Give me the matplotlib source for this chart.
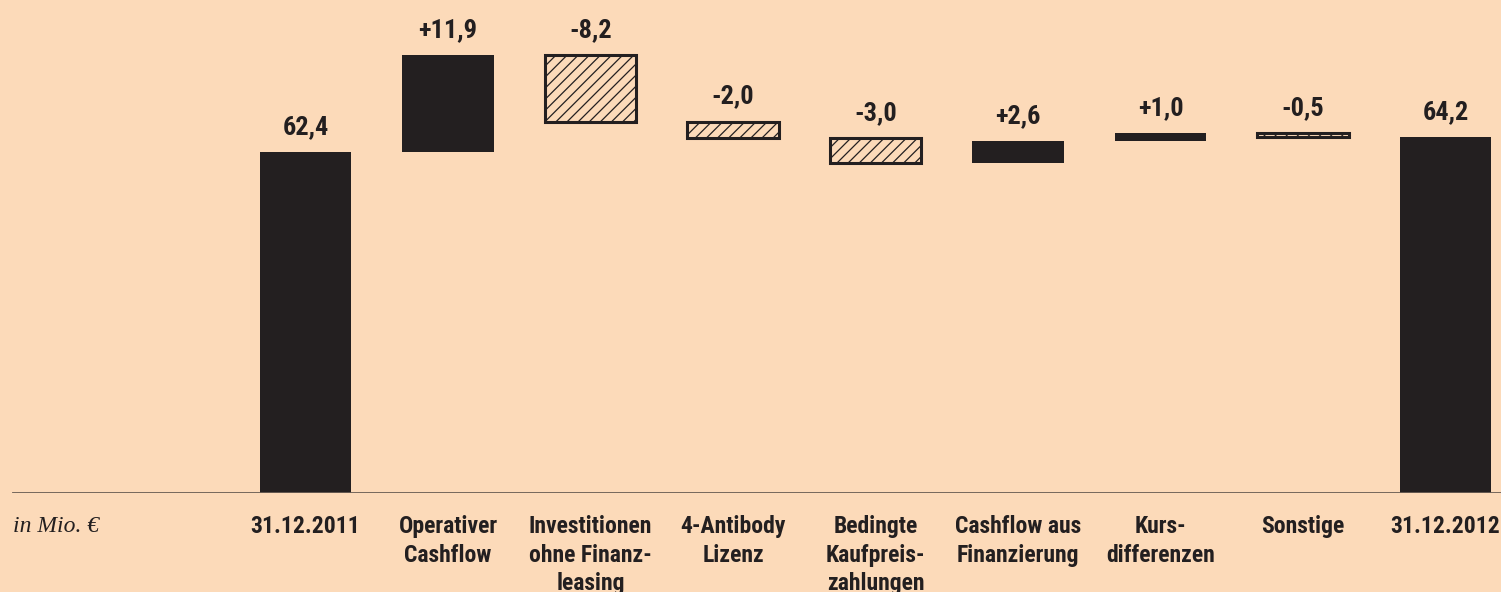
import numpy as np
import matplotlib
matplotlib.use('Agg')
import matplotlib.pyplot as plt
from matplotlib import font_manager

# Data
categories = ['31.12.2011', 'Operativer\nCashflow', 'Investitionen\nohne Finanz-\nleasing',
              '4-Antibody\nLizenz', 'Bedingte\nKaufpreis-\nzahlungen', 'Cashflow aus\nFinanzierung',
              'Kurs-\ndifferenzen', 'Sonstige', '31.12.2012']
values = [62.4, 11.9, -8.2, -2.0, -3.0, 2.6, 1.0, -0.5, 64.2]
is_total = [True, False, False, False, False, False, False, False, True]
value_labels = ['62,4', '+11,9', '-8,2', '-2,0', '-3,0', '+2,6', '+1,0', '-0,5', '64,2']

BG = '#FCDAB9'
DARK = '#231F20'

# condensed face if there is one, otherwise plain Roboto
names = {f.name for f in font_manager.fontManager.ttflist}
if 'Roboto Condensed' in names:
    LABEL_FONT, CAT_SIZE, VAL_SIZE = ['Roboto Condensed', 'DejaVu Sans'], 17, 19
else:
    LABEL_FONT, CAT_SIZE, VAL_SIZE = ['Roboto', 'DejaVu Sans'], 14.5, 17.5

# broken scale: totals compressed below 60, changes stretched above
B, K0, K1 = 60.0, 5.357, 8.15
HB = B * K0


def fwd(v):
    v = np.asarray(v, dtype=float)
    return np.where(v < B, v * K0, HB + K1 * (v - B))


def inv(h):
    h = np.asarray(h, dtype=float)
    return np.where(h < HB, h / K0, B + (h - HB) / K1)


plt.rcParams['hatch.linewidth'] = 0.9
plt.rcParams['hatch.color'] = DARK

fig = plt.figure(figsize=(15.01, 5.92), dpi=100, facecolor=BG)
ax = fig.add_axes([0, 99 / 592, 1, 493 / 592])
ax.set_facecolor(BG)
ax.set_yscale('function', functions=(fwd, inv))
ax.set_ylim(0, float(inv(493)))
ax.set_xlim(-2.144, 8.389)

x = np.arange(len(values))
running = 0.0
for i, (v, tot) in enumerate(zip(values, is_total)):
    if tot:
        bottom, height = 0.0, v
        running = v
    else:
        bottom, height = running, v
        running = running + v
    if tot or v > 0:
        ax.bar(x[i], height, bottom=bottom, width=0.64, color=DARK, linewidth=0)
    else:
        ax.bar(x[i], height, bottom=bottom, width=0.64, facecolor=BG,
               edgecolor=DARK, linewidth=2.2, hatch='///')
    top = max(bottom, bottom + height)
    ax.annotate(value_labels[i], (x[i], top), xytext=(0, 9.5), textcoords='offset points',
                ha='center', va='bottom', fontsize=VAL_SIZE, fontweight='bold',
                family=LABEL_FONT, color=DARK)
    ax.annotate(categories[i], (x[i], 0), xycoords=('data', 'axes fraction'),
                xytext=(0, -16), textcoords='offset points', ha='center', va='top',
                multialignment='center', fontsize=CAT_SIZE, fontweight='bold',
                family=LABEL_FONT, color=DARK, linespacing=1.3, annotation_clip=False)

ax.axhline(0, xmin=13 / 1501, xmax=1, color='#6b5e55', linewidth=1.3, zorder=5)

fig.text(13 / 1501, (592 - 532) / 592, 'in Mio. €', ha='left', va='baseline',
         fontsize=17, style='italic', family=['Liberation Serif', 'DejaVu Serif'], color=DARK)

for s in ax.spines.values():
    s.set_visible(False)
ax.set_xticks([])
ax.set_yticks([])
ax.minorticks_off()

fig.savefig('out.png', dpi=100, facecolor=BG)
